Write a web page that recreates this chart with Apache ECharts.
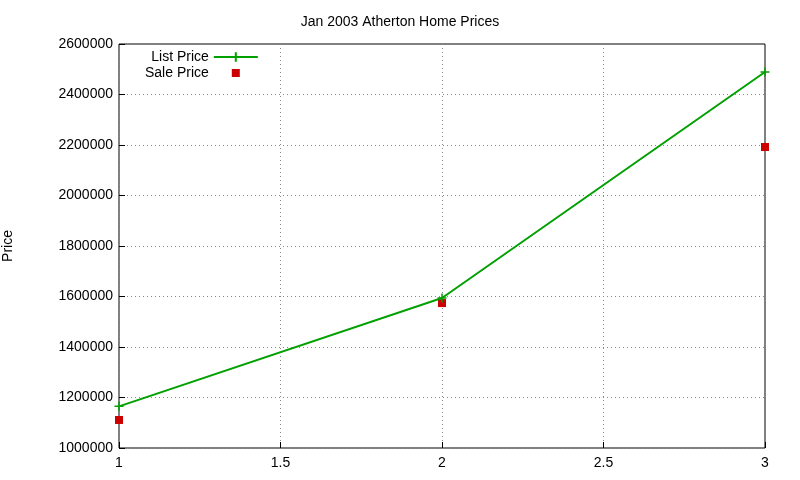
<!DOCTYPE html>
<html><head><meta charset="utf-8">
<script src="https://cdn.jsdelivr.net/npm/echarts@6/dist/echarts.min.js"></script>
<style>html,body{margin:0;padding:0;background:#fff}#c{width:800px;height:480px}</style>
</head><body><div id="c"></div>
<script>
const xValues = [1, 2, 3];
const listPrice = [1165000, 1594000, 2489000];
const salePrice = [1111000, 1574000, 2192000];
const title = 'Jan 2003 Atherton Home Prices';
const plus = 'path://M0,5L10,5M5,0L5,10';
const chart = echarts.init(document.getElementById('c'));
const font = 'Liberation Sans, Arial, sans-serif';
chart.setOption({
  animation: false,
  title: {text: title, left: 'center', top: 10, textStyle: {fontFamily: font, fontSize: 14, fontWeight: 'normal', color: '#000'}},
  grid: {left: 119, right: 35, top: 44, bottom: 32, containLabel: false, outerBoundsMode: 'none', show: true, borderColor: '#000', borderWidth: 1},
  legend: {left: 140, top: 45, orient: 'vertical', align: 'right', itemGap: 2, itemWidth: 44, itemHeight: 12,
    textStyle: {fontFamily: font, fontSize: 14, color: '#000'},
    data: [{name: 'List Price'},
           {name: 'Sale Price', icon: 'path://M0,0L0.01,0L0.01,0.01ZM44,12L44.01,12L44.01,12.01ZM18,2h8v8h-8z', itemStyle: {color: '#cc0000'}}]},
  xAxis: {type: 'value', min: 1, max: 3, interval: 0.5,
    axisLine: {show: false}, axisTick: {inside: true, length: 6, lineStyle: {color: '#000'}},
    axisLabel: {color: '#000', fontFamily: font, fontSize: 14, margin: 8},
    splitLine: {lineStyle: {color: '#888', type: [1, 3]}}},
  yAxis: {type: 'value', min: 1000000, max: 2600000, interval: 200000, name: 'Price', nameLocation: 'middle', nameGap: 104, nameRotate: 90,
    nameTextStyle: {color: '#000', fontFamily: font, fontSize: 14},
    axisLine: {show: false}, axisTick: {inside: true, length: 6, lineStyle: {color: '#000'}},
    axisLabel: {color: '#000', fontFamily: font, fontSize: 14, margin: 6, formatter: v => String(v)},
    splitLine: {lineStyle: {color: '#888', type: [1, 3]}}},
  series: [
    {name: 'List Price', type: 'line', data: xValues.map((x, i) => [x, listPrice[i]]),
      symbol: plus, symbolSize: 9, color: '#00a000', lineStyle: {width: 2, color: '#00a000'},
      itemStyle: {color: '#00a000', borderColor: '#00a000', borderWidth: 1.5}},
    {name: 'Sale Price', type: 'scatter', data: xValues.map((x, i) => [x, salePrice[i]]),
      symbol: 'rect', symbolSize: 8, color: '#cc0000', itemStyle: {color: '#cc0000', opacity: 1}}
  ]
});
</script></body></html>
